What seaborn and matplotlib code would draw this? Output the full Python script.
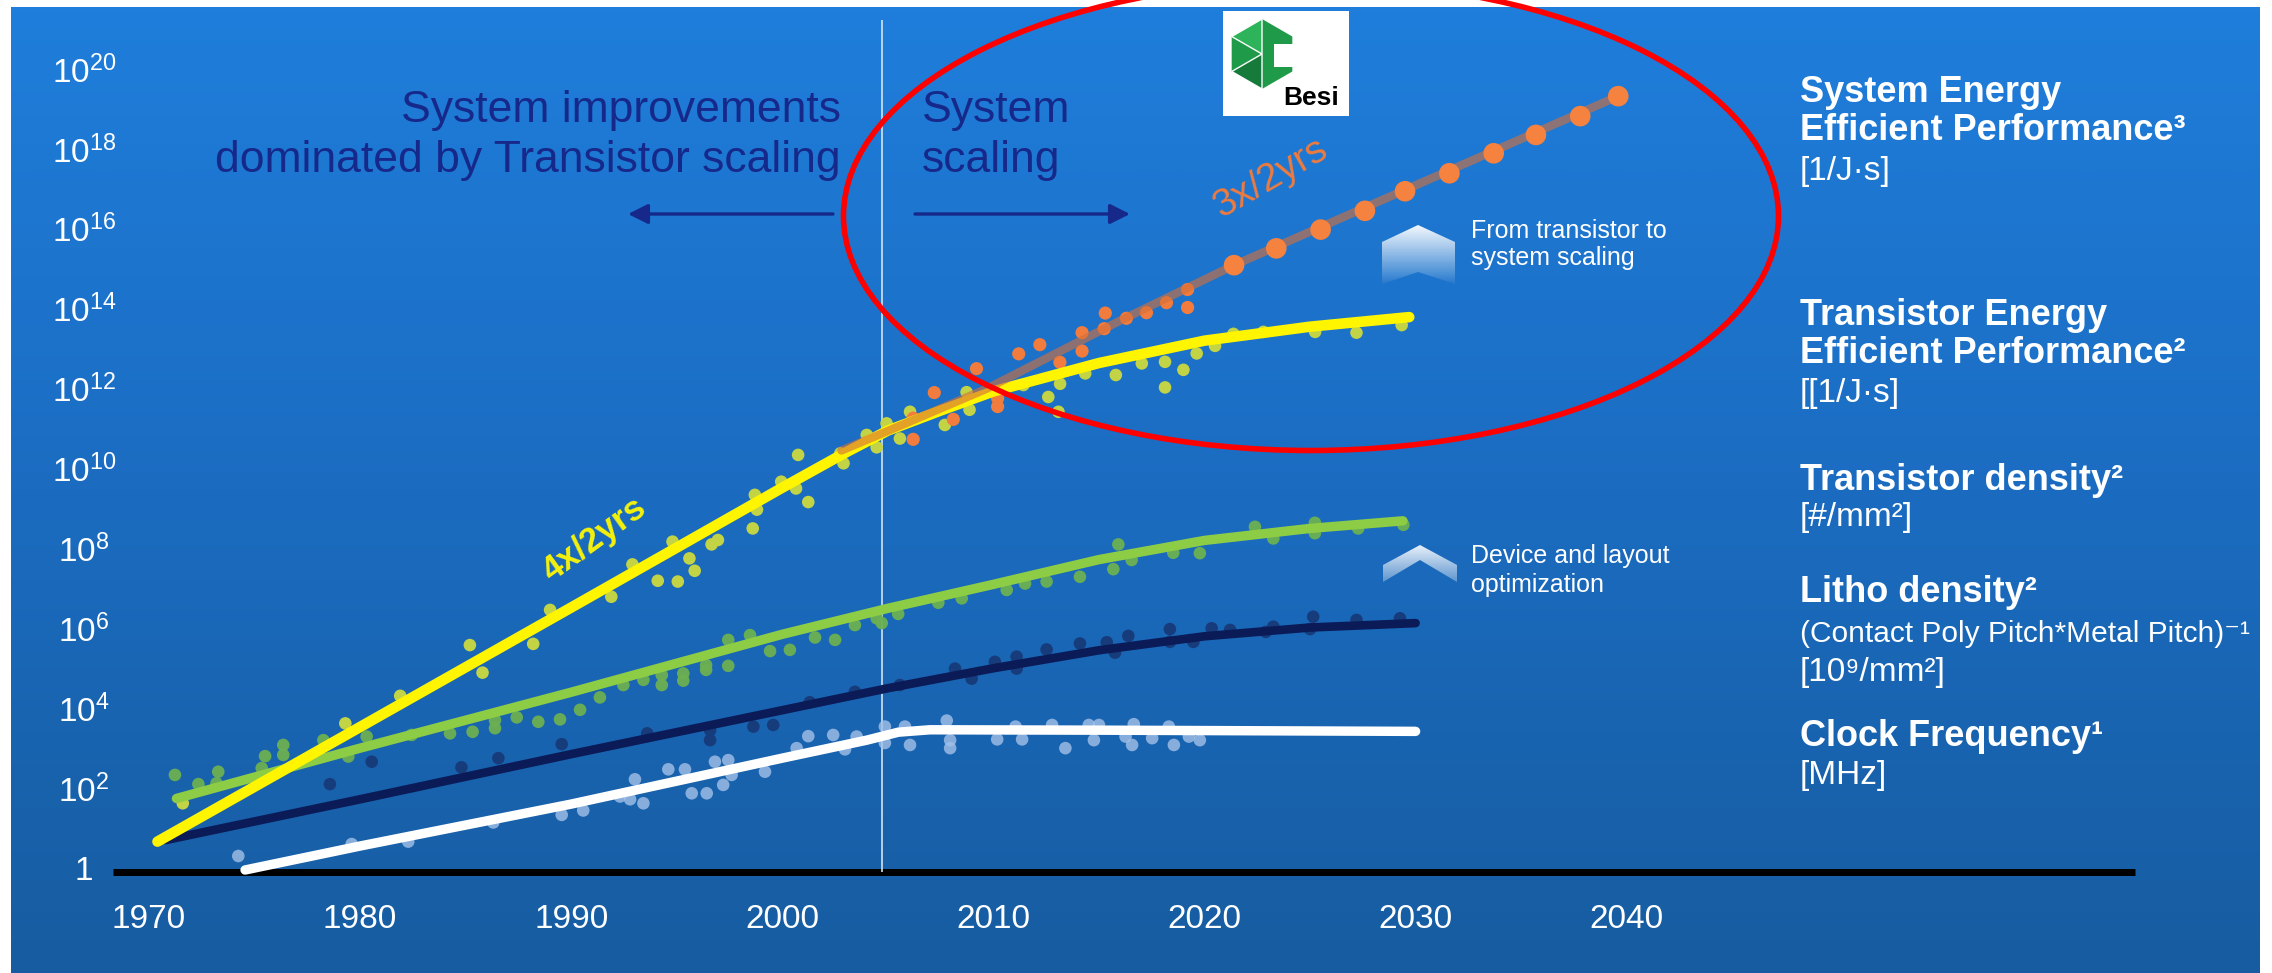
import numpy as np
import pandas as pd
import matplotlib
matplotlib.use("Agg")
import matplotlib.pyplot as plt
import seaborn as sns
from matplotlib import font_manager
from matplotlib.patches import Ellipse, Polygon, Rectangle, RegularPolygon
from matplotlib.colors import LinearSegmentedColormap
from matplotlib.ticker import NullLocator

# ---------------- data: years and log10 of the value ----------------
x_ticks = [1970, 1980, 1990, 2000, 2010, 2020, 2030, 2040]
y_tick_exps = [0, 2, 4, 6, 8, 10, 12, 14, 16, 18, 20]

# Transistor energy efficient performance (yellow)
te_line_year = [1970.4, 1980, 1990, 2000, 2003, 2005, 2007.5, 2010, 2015, 2020, 2025, 2029.7]
te_line_exp = [0.66, 3.53, 6.52, 9.52, 10.4, 10.95, 11.45, 11.93, 12.64, 13.2, 13.55, 13.79]
te_dot_year = [1971.6, 1979.3, 1981.9, 1985.2, 1985.8, 1988.2, 1989.0, 1991.9, 1992.9, 1994.1,
               1995.05, 1995.6, 1995.85, 1994.8, 1996.65, 1996.95, 1998.6, 1998.7, 1998.8, 1999.95,
               2000.65, 2000.75, 2001.23, 2002.9, 2002.75, 2004.0, 2004.47, 2004.94, 2005.57, 2006.05,
               2007.7, 2008.73, 2008.87, 2011.42, 2012.6, 2013.16, 2013.08, 2014.35, 2015.8, 2017.03,
               2018.13, 2018.13, 2019.0, 2019.63, 2020.5, 2021.37, 2022.79, 2025.24, 2027.2, 2029.34]
te_dot_exp = [1.62, 3.62, 4.31, 5.58, 4.89, 5.61, 6.46, 6.79, 7.6, 7.19,
              7.17, 7.75, 7.44, 8.17, 8.1, 8.21, 8.5, 9.34, 8.97, 9.67,
              9.5, 10.34, 9.16, 10.13, 10.38, 10.84, 10.53, 11.13, 10.75, 11.42,
              11.09, 11.91, 11.47, 12.09, 11.79, 12.12, 11.42, 12.38, 12.34, 12.63,
              12.67, 12.03, 12.47, 12.88, 13.07, 13.37, 13.42, 13.42, 13.4, 13.59]

# System energy efficient performance (orange)
se_line_year = [2002.8, 2004.6, 2009.7, 2016.0, 2021.4, 2039.6]
se_line_exp = [10.45, 10.85, 12.0, 13.7, 15.09, 19.32]
se_dot_year = [2006.2, 2006.2, 2007.2, 2008.1, 2009.2, 2010.2, 2010.2, 2011.2, 2012.2, 2013.15,
               2014.2, 2014.2, 2015.25, 2015.3, 2016.3, 2017.25, 2018.2, 2019.2, 2019.2]
se_dot_exp = [10.73, 11.26, 11.9, 11.23, 12.5, 11.76, 11.55, 12.87, 13.1, 12.66,
              13.4, 12.94, 13.5, 13.89, 13.76, 13.9, 14.15, 14.48, 14.03]
se_proj_year = [2021.4, 2023.4, 2025.5, 2027.6, 2029.5, 2031.6, 2033.7, 2035.7, 2037.8, 2039.6]
se_proj_exp = [15.09, 15.51, 15.98, 16.45, 16.94, 17.39, 17.89, 18.35, 18.82, 19.32]

# Transistor density (light green)
td_line_year = [1971.3, 1980, 1990, 2000, 2005, 2010, 2015, 2020, 2025, 2029.4]
td_line_exp = [1.74, 3.0, 4.4, 5.85, 6.5, 7.1, 7.72, 8.2, 8.5, 8.69]
td_dot_year = [1971.23, 1972.34, 1973.28, 1973.2, 1975.34, 1975.5, 1976.36, 1976.36, 1978.26, 1979.44,
               1980.31, 1982.44, 1984.26, 1985.33, 1986.39, 1986.39, 1987.42, 1988.44, 1989.47, 1990.42,
               1991.36, 1992.47, 1993.42, 1994.29, 1994.29, 1995.31, 1995.31, 1996.39, 1996.39, 1997.44,
               1997.44, 1998.47, 1999.42, 2000.36, 2001.55, 2002.5, 2003.44, 2004.47, 2004.71, 2005.49,
               2007.39, 2008.5, 2010.63, 2011.5, 2012.52, 2014.1, 2015.68, 2015.92, 2016.55, 2018.52,
               2019.78, 2022.39, 2023.26, 2025.23, 2025.23, 2027.28, 2029.42]
td_dot_exp = [2.33, 2.10, 2.41, 2.12, 2.5, 2.8, 3.08, 2.83, 3.2, 2.79,
              3.29, 3.33, 3.37, 3.41, 3.7, 3.5, 3.77, 3.66, 3.72, 3.96,
              4.27, 4.58, 4.71, 4.83, 4.58, 4.87, 4.69, 5.08, 4.96, 5.71,
              5.06, 5.83, 5.43, 5.46, 5.77, 5.71, 6.08, 6.25, 6.13, 6.36,
              6.64, 6.75, 6.96, 7.12, 7.17, 7.29, 7.48, 8.1, 7.71, 7.89,
              7.88, 8.54, 8.25, 8.38, 8.64, 8.5, 8.59]

# Litho density (navy)
ld_line_year = [1970.8, 1980, 1990, 2000, 2005, 2010, 2015, 2020, 2025, 2030]
ld_line_exp = [0.70, 1.72, 2.85, 3.95, 4.5, 5.0, 5.45, 5.8, 6.02, 6.13]
ld_dot_year = [1978.57, 1980.55, 1984.8, 1986.55, 1989.55, 1993.6, 1996.58, 1996.58, 1998.63, 1999.57,
               2001.3, 2003.44, 2005.57, 2008.18, 2008.97, 2010.07, 2011.1, 2011.1, 2012.52, 2014.1,
               2015.37, 2015.76, 2016.39, 2018.36, 2018.36, 2019.47, 2020.34, 2021.21, 2022.9, 2023.26,
               2025.15, 2025.0, 2027.2, 2029.26]
ld_dot_exp = [2.10, 2.66, 2.52, 2.75, 3.1, 3.37, 3.45, 3.2, 3.54, 3.58,
              4.15, 4.41, 4.58, 4.99, 4.74, 5.16, 5.29, 4.99, 5.47, 5.62,
              5.65, 5.39, 5.81, 5.98, 5.66, 5.66, 6.0, 5.96, 5.91, 6.04,
              6.29, 5.98, 6.21, 6.25]

# Clock frequency (white)
cf_line_year = [1974.55, 1980, 1990, 2000, 2004, 2005.5, 2007, 2015, 2030]
cf_line_exp = [-0.05, 0.55, 1.6, 2.75, 3.2, 3.4, 3.46, 3.45, 3.42]
cf_dot_year = [1974.23, 1979.6, 1982.28, 1986.31, 1989.55, 1990.57, 1992.31, 1992.79, 1993.02, 1993.42,
               1994.6, 1995.39, 1995.71, 1996.42, 1996.81, 1997.44, 1997.2, 1997.6, 1999.18, 2000.68,
               2001.23, 2002.41, 2002.97, 2003.52, 2004.86, 2004.86, 2005.81, 2006.05, 2007.79, 2007.95,
               2007.95, 2010.18, 2011.36, 2011.05, 2012.78, 2013.41, 2014.52, 2014.76, 2015.0, 2016.26,
               2016.57, 2016.65, 2017.52, 2018.31, 2018.55, 2019.26, 2019.78]
cf_dot_exp = [0.30, 0.6, 0.66, 1.14, 1.33, 1.44, 1.79, 1.72, 2.22, 1.62,
              2.47, 2.47, 1.87, 1.87, 2.66, 2.70, 2.08, 2.33, 2.41, 3.0,
              3.3, 3.33, 2.97, 3.29, 3.54, 3.13, 3.54, 3.08, 3.69, 3.2,
              3.0, 3.22, 3.22, 3.54, 3.58, 3.0, 3.58, 3.2, 3.58, 3.29,
              3.08, 3.6, 3.25, 3.54, 3.08, 3.29, 3.2]

base_exp = -0.1
base_years = [1968.3, 2064.1]
divider_year = 2004.7

# ---------------- style ----------------
sns.set_theme(style="white")
names = {f.name for f in font_manager.fontManager.ttflist}
SANS = "Liberation Sans" if "Liberation Sans" in names else "DejaVu Sans"
plt.rcParams["font.family"] = [SANS, "DejaVu Sans"]
plt.rcParams["mathtext.fontset"] = "custom"
plt.rcParams["mathtext.rm"] = SANS
plt.rcParams["mathtext.it"] = SANS + ":italic"
plt.rcParams["mathtext.bf"] = SANS + ":bold"

W, H, DPI = 2272, 973, 100
PX_YR, X_1970 = 21.11, 149.0      # pixel layout of the year axis
PX_DEC, Y_ONE = 39.95, 868.0      # pixel layout of the log axis

fig = plt.figure(figsize=(W / DPI, H / DPI), dpi=DPI, facecolor="white")

# background gradient
bg = fig.add_axes([0, 0, 1, 1], zorder=0)
bg.set_autoscale_on(False)
cmap = LinearSegmentedColormap.from_list("bg", ["#1f7edb", "#1b6cc1", "#175ca0"])
bg.imshow(np.linspace(0, 1, 256)[:, None], cmap=cmap, extent=[11, 2260, 973, 7],
          aspect="auto", interpolation="bicubic")
bg.set_xlim(0, W); bg.set_ylim(H, 0); bg.axis("off")

# main data axes
ax = fig.add_axes([0, 0, 1, 1], zorder=1)
ax.patch.set_alpha(0)
ax.set_yscale("log")
ax.set_xlim(1970 - X_1970 / PX_YR, 1970 + (W - X_1970) / PX_YR)
ax.set_ylim(10 ** ((Y_ONE - H) / PX_DEC), 10 ** (Y_ONE / PX_DEC))
for s in ax.spines.values():
    s.set_visible(False)


def frame(years, exps):
    return pd.DataFrame({"year": years, "value": 10.0 ** np.asarray(exps, float)})


def dots(years, exps, color, size, z, alpha=1.0):
    sns.scatterplot(data=frame(years, exps), x="year", y="value", ax=ax, color=color, s=size,
                    edgecolor="none", linewidth=0, alpha=alpha, zorder=z, legend=False)


def line(years, exps, color, lw, z, alpha=1.0):
    sns.lineplot(data=frame(years, exps), x="year", y="value", ax=ax, color=color, lw=lw,
                 sort=False, estimator=None, alpha=alpha, zorder=z, legend=False,
                 solid_capstyle="round")


ax.hlines(10 ** base_exp, base_years[0], base_years[1], color="black", lw=5, zorder=2)
ax.vlines(divider_year, 10 ** base_exp, 10 ** ((Y_ONE - 20) / PX_DEC), color="#d3e3f4",
          lw=1.2, zorder=2)

dots(cf_dot_year, cf_dot_exp, "#a3c1e8", 82, 3, 0.8)
dots(ld_dot_year, ld_dot_exp, "#173c7c", 82, 3)
dots(td_dot_year, td_dot_exp, "#6cb052", 82, 3, 0.95)
dots(te_dot_year, te_dot_exp, "#c2d346", 82, 3)
dots(se_dot_year, se_dot_exp, "#f27c3d", 90, 3)

line(cf_line_year, cf_line_exp, "#ffffff", 6.8, 4)
line(ld_line_year, ld_line_exp, "#0b1b58", 6.2, 4)
line(td_line_year, td_line_exp, "#8dcc45", 6.8, 4)
line(te_line_year, te_line_exp, "#fff500", 7.6, 4)
line(se_line_year, se_line_exp, "#d3703c", 6.0, 5, alpha=0.62)
dots(se_proj_year, se_proj_exp, "#f5823f", 220, 6)

ax.set_xlabel(""); ax.set_ylabel("")
ax.set_xticks(x_ticks)
ax.set_xticklabels([str(t) for t in x_ticks], fontsize=24, color="white")
ax.set_yticks([10.0 ** e for e in y_tick_exps])
ax.set_yticklabels(["1" if e == 0 else "10$^{%d}$" % e for e in y_tick_exps],
                   fontsize=24, color="white", ha="center")
ax.yaxis.set_minor_locator(NullLocator())
ax.tick_params(axis="x", length=0, pad=-50)
ax.tick_params(axis="y", length=0, pad=-60.5)
ax.grid(False)

# ---------------- overlay in pixel coordinates ----------------
ov = fig.add_axes([0, 0, 1, 1], zorder=2)
ov.set_autoscale_on(False)
ov.patch.set_alpha(0)

NAVY = "#16298a"
ov.text(841, 122, "System improvements", color=NAVY, fontsize=32, ha="right", va="baseline")
ov.text(841, 172, "dominated by Transistor scaling", color=NAVY, fontsize=32, ha="right", va="baseline")
ov.text(922, 122, "System", color=NAVY, fontsize=32, ha="left", va="baseline")
ov.text(922, 172, "scaling", color=NAVY, fontsize=32, ha="left", va="baseline")
arrow_kw = dict(arrowstyle="-|>", color=NAVY, lw=2.4, mutation_scale=30, shrinkA=0, shrinkB=0)
ov.annotate("", xy=(628, 214), xytext=(833, 214), arrowprops=arrow_kw)
ov.annotate("", xy=(1130, 214), xytext=(915, 214), arrowprops=arrow_kw)

ov.text(594, 539, "4x/2yrs", color="#f5f20c", fontsize=25, fontweight="bold", rotation=36,
        ha="center", va="center", rotation_mode="anchor")
ov.text(1271, 178, "3x/2yrs", color="#ef7b3e", fontsize=28, rotation=30,
        ha="center", va="center", rotation_mode="anchor")

ov.text(1471, 238, "From transistor to", color="white", fontsize=18, va="baseline")
ov.text(1471, 265, "system scaling", color="white", fontsize=18, va="baseline")
ov.text(1471, 563, "Device and layout", color="white", fontsize=18, va="baseline")
ov.text(1471, 592, "optimization", color="white", fontsize=18, va="baseline")


def grad_poly(pts, top_a, bot_a):
    poly = Polygon(pts, closed=True, facecolor="none", edgecolor="none")
    ov.add_patch(poly)
    xs = [p[0] for p in pts]; ys = [p[1] for p in pts]
    img = np.ones((64, 1, 4))
    img[:, 0, 3] = np.linspace(top_a, bot_a, 64)
    im = ov.imshow(img, extent=[min(xs), max(xs), max(ys), min(ys)], aspect="auto",
                   interpolation="bilinear", zorder=3)
    im.set_clip_path(poly)


grad_poly([(1382, 242), (1418, 225), (1455, 242), (1455, 284), (1418, 272), (1382, 284)], 0.95, 0.05)
grad_poly([(1383, 565), (1420, 545), (1457, 565), (1457, 582), (1420, 560), (1383, 582)], 0.9, 0.3)

# right-hand labels
RX = 1800
ov.text(RX, 102, "System Energy", color="white", fontsize=26, fontweight="bold")
ov.text(RX, 140, "Efficient Performance³", color="white", fontsize=26, fontweight="bold")
ov.text(RX, 180, "[1/J·s]", color="white", fontsize=24)
ov.text(RX, 325, "Transistor Energy", color="white", fontsize=26, fontweight="bold")
ov.text(RX, 363, "Efficient Performance²", color="white", fontsize=26, fontweight="bold")
ov.text(RX, 402, "[[1/J·s]", color="white", fontsize=24)
ov.text(RX, 490, "Transistor density²", color="white", fontsize=26, fontweight="bold")
ov.text(RX, 526, "[#/mm²]", color="white", fontsize=24)
ov.text(RX, 602, "Litho density²", color="white", fontsize=26, fontweight="bold")
ov.text(RX, 642, "(Contact Poly Pitch*Metal Pitch)⁻¹", color="white", fontsize=21.5)
ov.text(RX, 681, "[10⁹/mm²]", color="white", fontsize=24)
ov.text(RX, 746, "Clock Frequency¹", color="white", fontsize=26, fontweight="bold")
ov.text(RX, 784, "[MHz]", color="white", fontsize=24)

# logo
ov.add_patch(Rectangle((1223, 11), 126, 105, facecolor="white", edgecolor="none", zorder=6))
ov.add_patch(RegularPolygon((1262, 54), numVertices=6, radius=35, orientation=0,
                            facecolor="#1f9a48", edgecolor="none", zorder=7))
ov.add_patch(Polygon([(1262, 54), (1231.7, 71.5), (1262, 89)], facecolor="#167a3a", zorder=7))
ov.add_patch(Polygon([(1262, 54), (1262, 19), (1231.7, 36.5)], facecolor="#2db35a", zorder=7))
ov.add_patch(Rectangle((1274, 44), 22, 23, facecolor="white", edgecolor="none", zorder=8))
ov.text(1283, 105, "Besi", color="black", fontsize=19, fontweight="bold", zorder=9)

# red ellipse
ov.add_patch(Ellipse((1311, 216), 935, 469, fill=False, edgecolor="#ff0000", lw=4,
                     zorder=10, clip_on=False))

ov.set_xlim(0, W); ov.set_ylim(H, 0); ov.axis("off")

fig.savefig("out.png", dpi=DPI, facecolor="white")
